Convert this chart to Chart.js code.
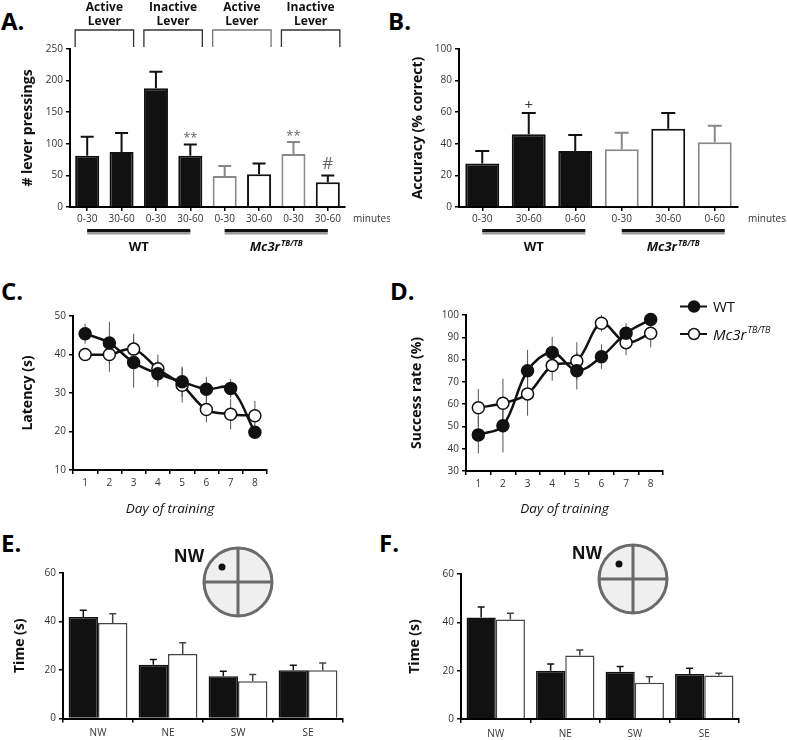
<!DOCTYPE html>
<html><head><meta charset="utf-8">
<script src="https://cdn.jsdelivr.net/npm/chart.js@4.4.1/dist/chart.umd.min.js"></script>
<style>
html,body{margin:0;padding:0;background:#fff;width:787px;height:740px;overflow:hidden;position:relative;}
canvas{position:absolute;}
.pl{position:absolute;font-family:'Open Sans',sans-serif;font-weight:bold;font-size:24px;line-height:24px;color:#000;}
</style></head><body>
<div class="pl" style="left:1px;top:9px">A.</div>
<div class="pl" style="left:388px;top:9px">B.</div>
<div class="pl" style="left:1px;top:279px">C.</div>
<div class="pl" style="left:390px;top:279px">D.</div>
<div class="pl" style="left:1px;top:531px">E.</div>
<div class="pl" style="left:379px;top:531px">F.</div>
<canvas id="cA" width="390" height="255" style="left:0;top:0"></canvas>
<canvas id="cB" width="397" height="255" style="left:390px;top:0"></canvas>
<canvas id="cC" width="390" height="260" style="left:0;top:270px"></canvas>
<canvas id="cD" width="397" height="260" style="left:390px;top:270px"></canvas>
<canvas id="cE" width="390" height="205" style="left:0;top:535px"></canvas>
<canvas id="cF" width="397" height="205" style="left:390px;top:535px"></canvas>
<script>
// ---------- DATA ----------
const leverCategories = ['0-30','30-60','0-30','30-60','0-30','30-60','0-30','30-60'];
const leverPress      = [81, 87, 188, 81, 49, 52, 84, 39];
const leverPressErr   = [30, 30, 26, 18, 16, 17, 19, 11];
const leverMarks      = ['', '', '', '**', '', '', '**', '#'];
const leverGenotype   = ['WT','WT','WT','WT','Mc3r','Mc3r','Mc3r','Mc3r'];
const leverBrackets   = ['Active Lever','Inactive Lever','Active Lever','Inactive Lever'];
const leverTicks      = [0, 250, 50];

const accCategories = ['0-30','30-60','0-60','0-30','30-60','0-60'];
const accuracy      = [27.5, 46, 35.5, 36.5, 49.5, 41];
const accuracyErr   = [8, 13.5, 10, 10.5, 10, 10.5];
const accMarks      = ['', '+', '', '', '', ''];
const accGenotype   = ['WT','WT','WT','Mc3r','Mc3r','Mc3r'];
const accTicks      = [0, 100, 20];

const days = ['1','2','3','4','5','6','7','8'];
const latencyWT     = [45.4, 43, 37.9, 35, 32.9, 31, 31.2, 19.8];
const latencyWTErr  = [2.6, 5.5, 6.5, 3.4, 3.9, 3.2, 2.4, 1.6];
const latencyMut    = [40, 40, 41.4, 36.3, 32, 25.7, 24.5, 24.1];
const latencyMutErr = [1.5, 4.5, 4, 3.7, 4.5, 3.3, 4, 3.8];
const latencyTicks  = [10, 50, 10];

const successWT     = [46.2, 50.3, 75, 83.2, 75, 81.3, 91.8, 98];
const successWTErr  = [8.4, 12, 9.3, 7, 8.4, 5.5, 4.5, 2];
const successMut    = [58.4, 60.4, 64.6, 77.3, 79.4, 96.3, 87.6, 91.8];
const successMutErr = [8.4, 11, 9.8, 6.8, 8.4, 3.7, 5.6, 6.3];
const successTicks  = [30, 100, 10];

const quadrants = ['NW','NE','SW','SE'];
const probeE_WT     = [41.9, 22.2, 17.4, 19.9];
const probeE_WTErr  = [2.7, 2.1, 2.1, 2.1];
const probeE_Mut    = [39.4, 26.6, 15.4, 19.9];
const probeE_MutErr = [3.8, 4.6, 2.7, 3.0];
const probeF_WT     = [42, 20, 19.6, 18.6];
const probeF_WTErr  = [4.3, 2.8, 2.1, 2.4];
const probeF_Mut    = [41.2, 26.3, 15, 18];
const probeF_MutErr = [2.6, 2.3, 2.5, 0.9];
const probeTicks    = [0, 60, 20];

const genotypeText = {
  WT:   {main:'WT',   sup:'',      italic:false},
  Mc3r: {main:'Mc3r', sup:'TB/TB', italic:true}
};

// ---------- STYLE ----------
const FONT = "'Open Sans', sans-serif";
Chart.defaults.font.family = FONT;
Chart.defaults.font.size = 10;
Chart.defaults.color = '#333';
Chart.defaults.animation = false;
Chart.defaults.plugins.legend.display = false;
Chart.defaults.plugins.tooltip.enabled = false;
Chart.defaults.responsive = false;

const fillFor = g => g === 'WT' ? '#111' : '#fff';

function drawGeno(ctx, key, x, y, size, center, bold) {
  const g = genotypeText[key];
  const b = bold ? 'bold ' : '';
  const it = g.italic ? 'italic ' : '';
  const mf = `${it}${b}${size}px ${FONT}`;
  const sf = `${it}${b}${Math.round(size*0.62)}px ${FONT}`;
  ctx.font = mf; const w1 = ctx.measureText(g.main).width;
  ctx.font = sf; const w2 = g.sup ? ctx.measureText(g.sup).width + 1 : 0;
  const x0 = center ? x - (w1 + w2)/2 : x;
  ctx.textAlign = 'left'; ctx.textBaseline = 'alphabetic';
  ctx.font = mf; ctx.fillText(g.main, x0, y);
  if (g.sup) { ctx.font = sf; ctx.fillText(g.sup, x0 + w1 + 1, y - size*0.42); }
}

function yScale(t, width, title, titleX, tSize) {
  const lh = tSize * 1.2;
  return {
    min: t[0], max: t[1],
    ticks: {stepSize: t[2], padding: 3, color: '#333', font: {size: 10}},
    grid: {drawOnChartArea: false, drawTicks: true, tickLength: 4, color: '#000', lineWidth: 1.5},
    border: {color: '#000', width: 2},
    title: {display: true, text: title, color: '#111', font: {size: tSize, weight: 'bold'},
            padding: {top: titleX - lh/2, bottom: 0}},
    afterFit: s => { s.width = width; }
  };
}
function xScale(height, gridOffset, pad, title, titleFromBottom) {
  const o = {
    offset: true,
    grid: {offset: gridOffset, drawOnChartArea: false, drawTicks: true, tickLength: 4, color: '#000', lineWidth: 1.5},
    border: {color: '#000', width: 2},
    ticks: {padding: pad, color: '#333', font: {size: 10}, maxRotation: 0, autoSkip: false},
    afterFit: s => { s.height = height; }
  };
  if (title) {
    const fs = 13.5, lh = fs*1.2;
    o.title = {display: true, text: title, color: '#111', font: {size: fs, style: 'italic'},
               padding: {top: 0, bottom: titleFromBottom - lh/2}};
  }
  return o;
}

// error bars from the library's own scale
const errorBars = {
  id: 'errorBars',
  beforeDatasetsDraw(chart) { drawErr(chart, 'before'); },
  afterDatasetsDraw(chart) { drawErr(chart, 'after'); }
};
function drawErr(chart, phase) {
  const ctx = chart.ctx, ys = chart.scales.y;
  chart.data.datasets.forEach((ds, di) => {
    if (!ds.errors || (ds.errPhase || 'after') !== phase) return;
    const meta = chart.getDatasetMeta(di);
    ctx.save();
    meta.data.forEach((el, j) => {
      const v = ds.data[j], e = ds.errors[j];
      const top = ys.getPixelForValue(v + e);
      const bot = ds.errBoth ? ys.getPixelForValue(v - e) : ys.getPixelForValue(v);
      ctx.strokeStyle = Array.isArray(ds.errColor) ? ds.errColor[j] : ds.errColor;
      ctx.lineWidth = ds.errWidth;
      ctx.beginPath();
      ctx.moveTo(el.x, bot); ctx.lineTo(el.x, top);
      if (ds.errCap) { ctx.moveTo(el.x - ds.errCap, top); ctx.lineTo(el.x + ds.errCap, top); }
      ctx.stroke();
    });
    ctx.restore();
  });
}

// decorations for panels A and B
const markGap = {'**': 2, '#': 6, '+': 3};
const markFont = {'**': 13, '#': 17, '+': 15};
const markColor = {'**': '#666', '#': '#666', '+': '#333'};
const deco = {
  id: 'deco',
  afterDraw(chart, args, o) {
    const ctx = chart.ctx, ca = chart.chartArea, xs = chart.scales.x, ys = chart.scales.y;
    const meta = chart.getDatasetMeta(0), ds = chart.data.datasets[0];
    ctx.save();
    if (o.brackets) {
      o.brackets.forEach((lab, k) => {
        const b0 = meta.data[2*k], b1 = meta.data[2*k+1];
        const l = b0.x - b0.width/2, r = b1.x + b1.width/2;
        ctx.strokeStyle = o.bracketColors[k]; ctx.lineWidth = 1.3;
        ctx.beginPath();
        ctx.moveTo(l, ca.top - 2); ctx.lineTo(l, ca.top - 19); ctx.lineTo(r, ca.top - 19); ctx.lineTo(r, ca.top - 2);
        ctx.stroke();
        ctx.fillStyle = '#111'; ctx.font = `bold 12px ${FONT}`;
        ctx.textAlign = 'center'; ctx.textBaseline = 'middle';
        const w = lab.split(' ');
        ctx.fillText(w[0], (l + r)/2, ca.top - 41);
        ctx.fillText(w[1], (l + r)/2, ca.top - 27);
      });
    }
    o.marks.forEach((m, j) => {
      if (!m) return;
      const top = ys.getPixelForValue(ds.data[j] + ds.errors[j]);
      ctx.fillStyle = markColor[m]; ctx.font = `${markFont[m]}px ${FONT}`;
      ctx.textAlign = 'center'; ctx.textBaseline = 'alphabetic';
      ctx.fillText(m, meta.data[j].x, top - markGap[m]);
    });
    // genotype underlines and labels
    const segs = [];
    o.groups.forEach((g, j) => {
      if (!segs.length || segs[segs.length-1].g !== g) segs.push({g, a: j, b: j});
      else segs[segs.length-1].b = j;
    });
    segs.forEach(s => {
      const x0 = xs.getPixelForValue(s.a), x1 = xs.getPixelForValue(s.b) + o.underlineExtra;
      const y = ca.bottom + 24;
      ctx.fillStyle = '#9a9a9a'; ctx.fillRect(x0, y, x1 - x0, 3.5);
      ctx.fillStyle = '#111'; ctx.fillRect(x0, y - 2, x1 - x0, 3);
      ctx.fillStyle = '#111';
      drawGeno(ctx, s.g, (x0 + x1)/2, ca.bottom + 44, 13, true, true);
    });
    ctx.fillStyle = '#333'; ctx.font = `10px ${FONT}`; ctx.textAlign = 'left'; ctx.textBaseline = 'middle';
    ctx.fillText('minutes', ca.right + o.minutesGap, ca.bottom + 12);
    ctx.restore();
  }
};

const arena = {
  id: 'arena',
  afterDraw(chart, args, o) {
    const ctx = chart.ctx;
    ctx.save();
    ctx.beginPath(); ctx.arc(o.cx, o.cy, o.r, 0, Math.PI*2); ctx.fillStyle = '#efefef'; ctx.fill();
    ctx.strokeStyle = '#6a6a6a'; ctx.lineWidth = 3;
    ctx.beginPath();
    ctx.moveTo(o.cx - o.r, o.cy); ctx.lineTo(o.cx + o.r, o.cy);
    ctx.moveTo(o.cx, o.cy - o.r); ctx.lineTo(o.cx, o.cy + o.r);
    ctx.stroke();
    ctx.beginPath(); ctx.arc(o.cx, o.cy, o.r, 0, Math.PI*2); ctx.stroke();
    ctx.fillStyle = '#111';
    ctx.beginPath(); ctx.arc(o.dx, o.dy, 3.5, 0, Math.PI*2); ctx.fill();
    ctx.font = `bold 17px ${FONT}`; ctx.textAlign = 'center'; ctx.textBaseline = 'middle';
    ctx.fillText(o.label, o.lx, o.ly);
    ctx.restore();
  }
};

const seriesLegend = {
  id: 'seriesLegend',
  afterDraw(chart, args, o) {
    const ctx = chart.ctx;
    ctx.save();
    chart.data.datasets.forEach((ds, i) => {
      const y = o.y + i*o.dy;
      ctx.strokeStyle = '#111'; ctx.lineWidth = 2;
      ctx.beginPath(); ctx.moveTo(o.x, y); ctx.lineTo(o.x + 27, y); ctx.stroke();
      ctx.beginPath(); ctx.arc(o.x + 14, y, 5.5, 0, Math.PI*2);
      ctx.fillStyle = ds.pointBackgroundColor; ctx.fill(); ctx.lineWidth = 1.5; ctx.stroke();
      ctx.fillStyle = '#111';
      drawGeno(ctx, ds.label, o.x + 33, y + 5.5, 15, false, false);
    });
    ctx.restore();
  }
};

// ---------- A ----------
new Chart(document.getElementById('cA'), {
  type: 'bar',
  data: {labels: leverCategories, datasets: [{
    data: leverPress, errors: leverPressErr,
    backgroundColor: leverGenotype.map(fillFor),
    borderColor: ['#111','#111','#111','#111','#888','#111','#888','#111'],
    borderWidth: 2, borderSkipped: 'start',
    barPercentage: 0.7, categoryPercentage: 1,
    errColor: ['#111','#111','#111','#111','#888','#111','#888','#111'], errWidth: 2, errCap: 6.5
  }]},
  options: {
    layout: {padding: {left: 0, top: 49, right: 45, bottom: 25}},
    scales: {x: xScale(23, false, 2), y: yScale(leverTicks, 70, '# lever pressings', 28, 14)},
    plugins: {deco: {brackets: leverBrackets, bracketColors: ['#333','#333','#777','#333'],
      marks: leverMarks, groups: leverGenotype, underlineExtra: 0, minutesGap: 8}}
  },
  plugins: [errorBars, deco]
});

// ---------- B ----------
new Chart(document.getElementById('cB'), {
  type: 'bar',
  data: {labels: accCategories, datasets: [{
    data: accuracy, errors: accuracyErr,
    backgroundColor: accGenotype.map(fillFor),
    borderColor: ['#111','#111','#111','#888','#111','#888'],
    borderWidth: 2, borderSkipped: 'start',
    barPercentage: 0.73, categoryPercentage: 1,
    errColor: ['#111','#111','#111','#888','#111','#888'], errWidth: 2, errCap: 7
  }]},
  options: {
    layout: {padding: {left: 0, top: 49, right: 49, bottom: 25}},
    scales: {x: xScale(23, false, 2), y: yScale(accTicks, 69, 'Accuracy (% correct)', 28, 14)},
    plugins: {deco: {marks: accMarks, groups: accGenotype, underlineExtra: 10, minutesGap: 10}}
  },
  plugins: [errorBars, deco]
});

// ---------- C & D ----------
function lineDs(label, data, errs, fill) {
  return {
    label, data, errors: errs, errBoth: true, errPhase: 'before', errColor: '#555', errWidth: 1,
    borderColor: '#111', borderWidth: 2.5, tension: 0.35, clip: false,
    pointRadius: 6, pointHoverRadius: 6, pointBackgroundColor: fill,
    pointBorderColor: '#111', pointBorderWidth: 1.5
  };
}
new Chart(document.getElementById('cC'), {
  type: 'line',
  data: {labels: days, datasets: [
    lineDs('WT', latencyWT, latencyWTErr, '#111'),
    lineDs('Mc3r', latencyMut, latencyMutErr, '#fff')
  ]},
  options: {
    layout: {padding: {left: 0, top: 46, right: 123, bottom: 0}},
    scales: {x: xScale(60, true, 3, 'Day of training', 21), y: yScale(latencyTicks, 73, 'Latency (s)', 28, 14)}
  },
  plugins: [errorBars]
});
new Chart(document.getElementById('cD'), {
  type: 'line',
  data: {labels: days, datasets: [
    lineDs('WT', successWT, successWTErr, '#111'),
    lineDs('Mc3r', successMut, successMutErr, '#fff')
  ]},
  options: {
    layout: {padding: {left: 0, top: 45, right: 124, bottom: 0}},
    scales: {x: xScale(59, true, 3, 'Day of training', 21), y: yScale(successTicks, 76, 'Success rate (%)', 27, 14)},
    plugins: {seriesLegend: {x: 290, y: 36.5, dy: 27.5}}
  },
  plugins: [errorBars, seriesLegend]
});

// ---------- E & F ----------
function probeChart(id, wt, wtErr, mut, mutErr, yW, titleX, pad, arenaOpts) {
  new Chart(document.getElementById(id), {
    type: 'bar',
    data: {labels: quadrants, datasets: [
      {label: 'WT', data: wt, errors: wtErr, backgroundColor: '#111', borderColor: '#111', borderWidth: 1.5,
       borderSkipped: 'start', errColor: '#111', errWidth: 1.5, errCap: 3.5},
      {label: 'Mc3r', data: mut, errors: mutErr, backgroundColor: '#fff', borderColor: '#444', borderWidth: 1.5,
       borderSkipped: 'start', errColor: '#444', errWidth: 1.5, errCap: 3.5}
    ]},
    options: {
      datasets: {bar: {barPercentage: 1, categoryPercentage: 0.84}},
      layout: {padding: pad},
      scales: {x: xScale(pad.xh, true, 5), y: yScale(probeTicks, yW, 'Time (s)', titleX, 14)},
      plugins: {arena: arenaOpts}
    },
    plugins: [errorBars, arena]
  });
}
probeChart('cE', probeE_WT, probeE_WTErr, probeE_Mut, probeE_MutErr, 63, 20,
  {left: 0, top: 38, right: 47, bottom: 0, xh: 21.5},
  {cx: 238, cy: 47, r: 34, dx: 222, dy: 32, label: quadrants[0], lx: 189, ly: 22});
probeChart('cF', probeF_WT, probeF_WTErr, probeF_Mut, probeF_MutErr, 71, 25,
  {left: 0, top: 39, right: 48, bottom: 0, xh: 21},
  {cx: 243, cy: 44, r: 34, dx: 229, dy: 29, label: quadrants[0], lx: 197, ly: 19});
</script>
</body></html>
